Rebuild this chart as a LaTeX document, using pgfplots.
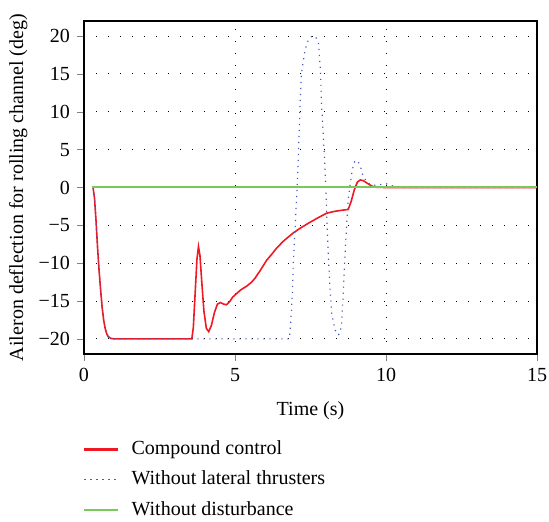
\documentclass[border=0pt]{standalone}
\usepackage{fontspec}
\setmainfont{Liberation Serif}
\usepackage{pgfplots}
\pgfplotsset{compat=1.18}
\definecolor{cred}{RGB}{240,25,35}
\definecolor{cblue}{RGB}{70,90,190}
\definecolor{cgreen}{RGB}{120,200,90}
\begin{document}
\fontsize{10}{12}\selectfont
\begin{tikzpicture}
\path[use as bounding box] (-42pt,-84pt) rectangle (232.5pt,177pt);
\begin{axis}[
  at={(0,0)}, anchor=south west, scale only axis,
  width=226.5pt, height=166.5pt,
  xmin=0, xmax=15, ymin=-22, ymax=22,
  xtick={0,5,10,15}, ytick={-20,-15,-10,-5,0,5,10,15,20},
  yticklabels={−20,−15,−10,−5,0,5,10,15,20},
  /pgf/number format/assume math mode=true,
  tick pos=left, tick align=outside,
  major tick length=3.5pt,
  grid=major,
  major grid style={black, line width=0.5pt, dash pattern=on 0.5pt off 5.5pt},
  every axis/.append style={font=\fontsize{10}{12}\selectfont},
  tick label style={font=\fontsize{10}{12}\selectfont},
  label style={font=\fontsize{10}{12}\selectfont},
  xlabel style={yshift=-3pt},
  ylabel style={yshift=-1.2pt},
  axis line style={line width=0.6pt},
  xlabel={Time (s)},
  ylabel={Aileron deflection for rolling channel (deg)},
  legend style={at={(-0.0155,-0.236)}, anchor=north west, draw=none, fill=none,
    font=\fontsize{10}{12}\selectfont, row sep=2.6pt},
  legend image code/.code={\draw[#1] (0pt,0pt) -- (17pt,0pt); \path (21pt,0pt);},
  legend cell align=left,
]
\addplot[cred, line width=0.8pt, legend image post style={line width=1.1pt}] coordinates {
(0.30,0) (0.35,-1.5) (0.40,-4.5) (0.45,-8) (0.50,-11) (0.55,-13.5) (0.60,-15.8)
(0.65,-17.5) (0.70,-18.6) (0.75,-19.3) (0.80,-19.7) (0.90,-19.95) (1.0,-20)
(3.57,-20) (3.62,-18.5) (3.68,-14) (3.74,-9.5) (3.79,-7.8) (3.84,-9) (3.90,-12.5)
(3.97,-16.3) (4.05,-18.6) (4.13,-19.05) (4.22,-18.2) (4.32,-16.5) (4.42,-15.4)
(4.52,-15.2) (4.62,-15.4) (4.72,-15.5) (4.82,-15.1) (4.92,-14.5) (5.0,-14.2)
(5.2,-13.5) (5.4,-13.0) (5.55,-12.5) (5.66,-12.0) (5.83,-11.0) (6.05,-9.6)
(6.2,-8.9) (6.38,-8.0) (6.6,-7.1) (6.93,-6.0) (7.15,-5.4) (7.48,-4.6) (7.75,-4.0)
(8.03,-3.4) (8.3,-3.15) (8.55,-3.0) (8.75,-2.9) (8.85,-1.8) (8.95,-0.3)
(9.05,0.7) (9.15,1.0) (9.25,0.9) (9.4,0.5) (9.55,0.15) (9.7,0.02) (10,0) (15,0)
};
\addlegendentry{Compound control}
\addplot[cblue, line width=0.6pt, dash pattern=on 0.6pt off 2.4pt] coordinates {
(0.30,0) (0.35,-1.5) (0.40,-4.5) (0.45,-8) (0.50,-11) (0.55,-13.5) (0.60,-15.8)
(0.65,-17.5) (0.70,-18.6) (0.75,-19.3) (0.80,-19.7) (0.90,-19.95) (1.0,-20)
(6.8,-20) (6.85,-17.5) (6.9,-14) (6.93,-10) (7.0,-4.5) (7.06,0.3) (7.1,4.5)
(7.15,10.3) (7.2,15.1) (7.32,18.2) (7.43,19.5) (7.55,20) (7.65,20) (7.76,19.3)
(7.82,16) (7.87,10.7) (7.95,5.0) (8.01,-0.7) (8.09,-9.1) (8.15,-13.5) (8.2,-16.6)
(8.31,-18.8) (8.42,-19.5) (8.48,-19.2) (8.53,-18) (8.59,-13.5) (8.64,-9.1)
(8.70,-4.7) (8.75,-1.6) (8.81,0.3) (8.87,2.0) (8.94,3.3) (9.02,3.6) (9.08,3.4)
(9.15,2.8) (9.22,1.8) (9.36,0.7) (9.5,0.35) (9.66,0.3) (9.85,0.4) (10.0,0.5)
(10.15,0.3) (10.3,0.1) (10.5,0) (15,0)
};
\addlegendentry{Without lateral thrusters}
\addplot[cgreen, line width=1pt] coordinates {(0.25,0) (15,0)};
\addlegendentry{Without disturbance}
\end{axis}
\end{tikzpicture}
\end{document}
